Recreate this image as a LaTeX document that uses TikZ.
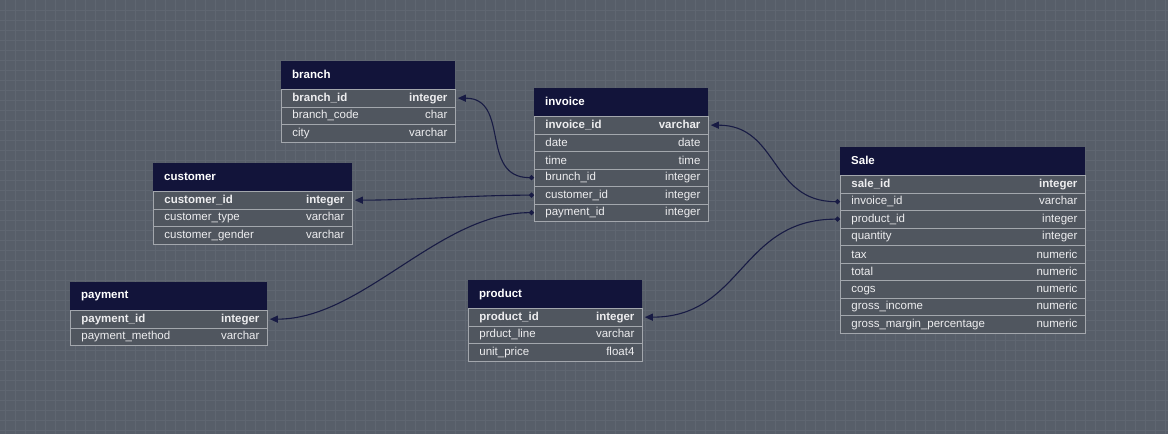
\documentclass[tikz,border=0pt]{standalone}
\usepackage{fontspec}
\setmainfont{Liberation Sans}
\usetikzlibrary{arrows.meta}
\definecolor{bgc}{HTML}{575E69}
\definecolor{gridc}{HTML}{5F6671}
\definecolor{hdrc}{HTML}{12143A}
\definecolor{rowc}{HTML}{50565F}
\definecolor{sepc}{HTML}{A3A7AD}
\definecolor{txtc}{HTML}{EDEDEF}
\definecolor{linkc}{HTML}{181B44}
\tikzset{
  hdr/.style={fill=hdrc, text=white, inner sep=0pt, minimum height=28pt, anchor=north west, font=\fontsize{11.5}{13}\selectfont\bfseries},
  rowbox/.style={fill=rowc, draw=sepc, line width=0.8pt, inner sep=0pt, minimum height=17.5pt, anchor=north west, text=txtc, font=\fontsize{11.5}{13}\selectfont},
  link/.style={draw=linkc, line width=1.1pt, {Circle[length=5pt]}-{Triangle[length=8pt,width=7pt]}, shorten >=2pt},
  gridline/.style={draw=gridc, line width=0.7pt},
}
\newcommand\mktable[6]{%
  \node[hdr] (#1) at (#2,#3) {\makebox[#4pt][l]{\hspace{11pt}\raisebox{1.5pt}{#5}}};
  \foreach \nm/\ty [count=\i] in {#6}{%
    \pgfmathsetmacro\yy{#3+28+(\i-1)*17.5}
    \ifnum\i=1 \def\fw{\bfseries}\else\def\fw{}\fi
    \node[rowbox] (#1-\i) at (#2,\yy) {\makebox[#4pt]{\hspace{11pt}\fw\nm\hfill\ty\hspace{8pt}}};
  }%
}
\begin{document}
\begin{tikzpicture}[x=1pt,y=-1pt]
\useasboundingbox (0,0) rectangle (1168,434);
\fill[bgc] (0,0) rectangle (1168,434);
\foreach \gx in {5,15,...,1165} \draw[gridline] (\gx,0) -- (\gx,434);
\foreach \gy in {10,20,...,430} \draw[gridline] (0,\gy) -- (1168,\gy);

\mktable{branch}{281}{61}{174}{branch}{branch\_id/integer, branch\_code/char, city/varchar}
\mktable{invoice}{534}{88}{174}{invoice}{invoice\_id/varchar, date/date, time/time, brunch\_id/integer, customer\_id/integer, payment\_id/integer}
\mktable{sale}{840}{147}{245}{Sale}{sale\_id/integer, invoice\_id/varchar, product\_id/integer, quantity/integer, tax/numeric, total/numeric, cogs/numeric, gross\_income/numeric, gross\_margin\_percentage/numeric}
\mktable{customer}{153}{163}{199}{customer}{customer\_id/integer, customer\_type/varchar, customer\_gender/varchar}
\mktable{payment}{70}{282}{197}{payment}{payment\_id/integer, payment\_method/varchar}
\mktable{product}{468}{280}{174}{product}{product\_id/integer, prduct\_line/varchar, unit\_price/float4}

\draw[link] (invoice-4.west) .. controls +(-55,0) and +(55,0) .. (branch-1.east);
\draw[link] (invoice-5.west) .. controls +(-60,0) and +(60,0) .. (customer-1.east);
\draw[link] (invoice-6.west) .. controls +(-95,0) and +(95,0) .. (payment-1.east);
\draw[link] (sale-2.west) .. controls +(-70,0) and +(70,0) .. (invoice-1.east);
\draw[link] (sale-3.west) .. controls +(-100,0) and +(100,0) .. (product-1.east);
\end{tikzpicture}
\end{document}
